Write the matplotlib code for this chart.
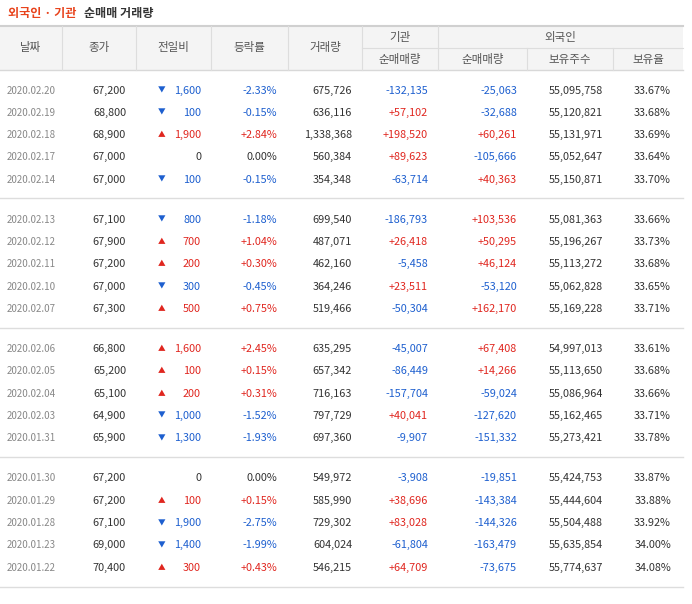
import matplotlib
matplotlib.use("Agg")
import matplotlib.pyplot as plt

dates = ["2020.02.20","2020.02.19","2020.02.18","2020.02.17","2020.02.14",
         "2020.02.13","2020.02.12","2020.02.11","2020.02.10","2020.02.07",
         "2020.02.06","2020.02.05","2020.02.04","2020.02.03","2020.01.31",
         "2020.01.30","2020.01.29","2020.01.28","2020.01.23","2020.01.22"]
close = [67200,68800,68900,67000,67000, 67100,67900,67200,67000,67300,
         66800,65200,65100,64900,65900, 67200,67200,67100,69000,70400]
change = [-1600,-100,1900,0,-100, -800,700,200,-300,500,
          1600,100,200,-1000,-1300, 0,100,-1900,-1400,300]
rate = [-2.33,-0.15,2.84,0.00,-0.15, -1.18,1.04,0.30,-0.45,0.75,
        2.45,0.15,0.31,-1.52,-1.93, 0.00,0.15,-2.75,-1.99,0.43]
volume = [675726,636116,1338368,560384,354348, 699540,487071,462160,364246,519466,
          635295,657342,716163,797729,697360, 549972,585990,729302,604024,546215]
inst_net = [-132135,57102,198520,89623,-63714, -186793,26418,-5458,23511,-50304,
            -45007,-86449,-157704,40041,-9907, -3908,38696,83028,-61804,64709]
frgn_net = [-25063,-32688,60261,-105666,40363, 103536,50295,46124,-53120,162170,
            67408,14266,-59024,-127620,-151332, -19851,-143384,-144326,-163479,-73675]
frgn_hold = [55095758,55120821,55131971,55052647,55150871, 55081363,55196267,55113272,55062828,55169228,
             54997013,55113650,55086964,55162465,55273421, 55424753,55444604,55504488,55635854,55774637]
frgn_ratio = [33.67,33.68,33.69,33.64,33.70, 33.66,33.73,33.68,33.65,33.71,
              33.61,33.68,33.66,33.71,33.78, 33.87,33.88,33.92,34.00,34.08]

RED = "#e0261f"; BLUE = "#1d5fcf"; DARK = "#333333"; GRAY = "#888888"
FONT = "Noto Sans CJK KR"
plt.rcParams["font.family"] = FONT

fig = plt.figure(figsize=(6.92, 6.04), dpi=100)
ax = fig.add_axes([0, 0, 1, 1])
ax.set_xlim(0, 692); ax.set_ylim(604, 0); ax.axis("off")

def col(v):
    return RED if v > 0 else (BLUE if v < 0 else DARK)
def sgn(v, s):
    return ("+" + s) if v > 0 else s

# title
ax.text(8, 13, "외국인 · 기관", color="#e8431c", fontsize=8.7, fontweight="bold", va="center")
ax.text(84, 13, "순매매 거래량", color=DARK, fontsize=8.7, fontweight="bold", va="center")

# header
L, R = 0, 683
ax.add_patch(plt.Rectangle((L, 26), R - L, 44, color="#f4f4f4", lw=0))
ax.plot([L, R], [26, 26], color="#d0d0d0", lw=1.5)
ax.plot([L, R], [70, 70], color="#d8d8d8", lw=1)
ax.plot([362, R], [48, 48], color="#dddddd", lw=0.8)
for x in [62, 136, 211, 288, 362, 438]:
    ax.plot([x, x], [26, 70], color="#dddddd", lw=0.8)
for x in [527, 613]:
    ax.plot([x, x], [48, 70], color="#dddddd", lw=0.8)
hs = dict(color="#555555", fontsize=8.3, ha="center", va="center")
for x0, x1, t in [(0,62,"날짜"),(62,136,"종가"),(136,211,"전일비"),(211,288,"등락률"),(288,362,"거래량")]:
    ax.text((x0+x1)/2, 48, t, **hs)
ax.text(400, 37, "기관", **hs); ax.text(560, 37, "외국인", **hs)
for x0, x1, t in [(362,438,"순매매량"),(438,527,"순매매량"),(527,613,"보유주수"),(613,683,"보유율")]:
    ax.text((x0+x1)/2, 59, t, **hs)

fs = 7.8
for i in range(len(dates)):
    g, k = divmod(i, 5)
    y = 90.5 + g * 129.3 + k * 22.3
    ax.text(7, y, dates[i], color=GRAY, fontsize=7.0, va="center")
    ax.text(126, y, f"{close[i]:,}", color=DARK, fontsize=fs, va="center", ha="right")
    c = change[i]
    if c != 0:
        ax.text(162, y, "▲" if c > 0 else "▼", color=col(c), fontsize=5.5, va="center", ha="center")
    ax.text(201, y, f"{abs(c):,}", color=col(c), fontsize=fs, va="center", ha="right")
    ax.text(277, y, sgn(rate[i], f"{rate[i]:.2f}%"), color=col(rate[i]), fontsize=fs, va="center", ha="right")
    ax.text(352, y, f"{volume[i]:,}", color=DARK, fontsize=fs, va="center", ha="right")
    ax.text(428, y, sgn(inst_net[i], f"{inst_net[i]:,}"), color=col(inst_net[i]), fontsize=fs, va="center", ha="right")
    ax.text(517, y, sgn(frgn_net[i], f"{frgn_net[i]:,}"), color=col(frgn_net[i]), fontsize=fs, va="center", ha="right")
    ax.text(603, y, f"{frgn_hold[i]:,}", color=DARK, fontsize=fs, va="center", ha="right")
    ax.text(671, y, f"{frgn_ratio[i]:.2f}%", color=DARK, fontsize=fs, va="center", ha="right")

for yl in [198, 327.5, 457, 587]:
    ax.plot([L, R], [yl, yl], color="#dddddd", lw=1)

fig.savefig("out.png", dpi=100, facecolor="white")
